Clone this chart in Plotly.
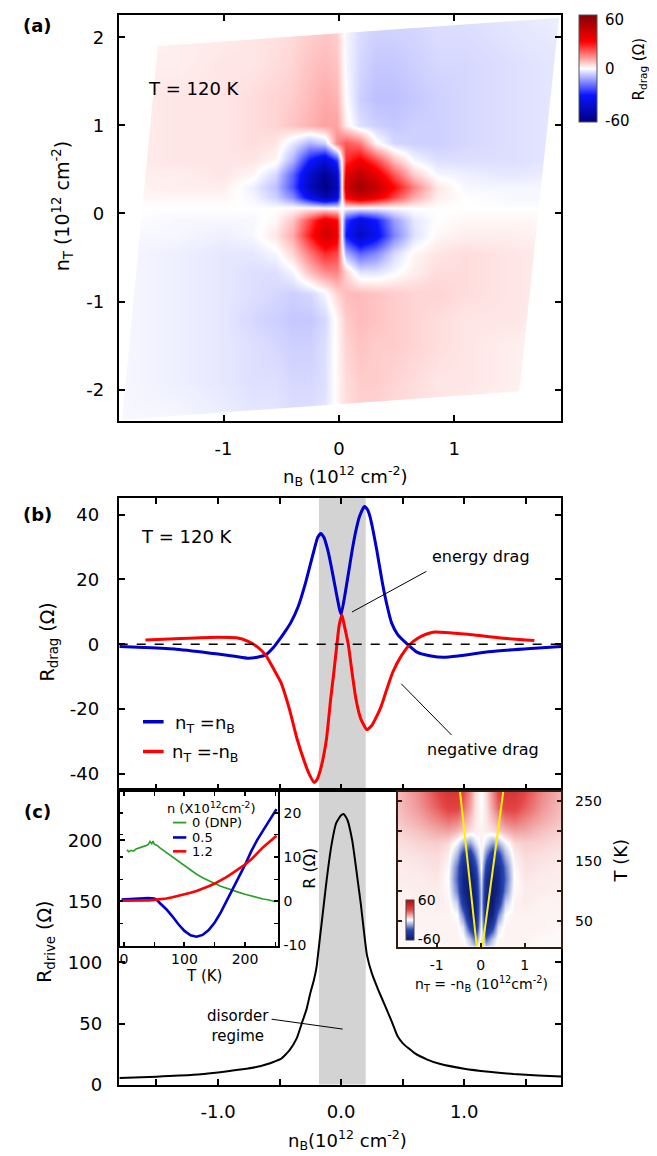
import plotly.graph_objects as go

W, H = 657, 1156
FONT = "DejaVu Sans"

# ---------------- panel (a): R_drag map vs n_B, n_T (T = 120 K) ----------------
nb_grid = [-1.9, -1.4, -1.0, -0.75, -0.55, -0.4, -0.25, -0.12, -0.02, 0.06, 0.18, 0.32, 0.48, 0.65, 0.85, 1.1, 1.5, 1.95]
nt_grid = [-2.35, -1.9, -1.5, -1.2, -0.9, -0.65, -0.45, -0.25, -0.08, 0.06, 0.18, 0.3, 0.45, 0.6, 0.8, 1.0, 1.3, 1.7, 2.25]
rdrag_map = [
    [-1, -1, -2, -3, -3, -4, -4, -3, 1, 4, 5, 5, 4, 4, 3, 2, 1, 1],
    [-1, -2, -3, -4, -4, -5, -5, -4, 1, 4, 6, 6, 5, 4, 3, 3, 2, 1],
    [-1, -2, -3, -4, -5, -6, -6, -4, 1, 5, 7, 6, 6, 5, 4, 3, 2, 1],
    [-1, -2, -3, -5, -6, -7, -7, -5, 1, 6, 8, 7, 6, 5, 4, 3, 3, 2],
    [-1, -2, -3, -4, -5, -6, -5, -1, 5, 8, 8, 7, 6, 5, 5, 4, 3, 2],
    [-1, -2, -3, -4, -4, -1, 8, 14, 15, 5, -4, -4, -1, 2, 4, 4, 3, 2],
    [-1, -2, -3, -3, -1, 5, 16, 25, 22, -10, -20, -15, -5, 1, 3, 4, 3, 2],
    [-1, -1, -2, -1, 3, 10, 27, 42, 35, -30, -44, -34, -16, -4, 1, 2, 2, 1],
    [0, -1, -1, -1, 1, 7, 22, 36, 30, -25, -38, -30, -13, -3, 0, 1, 1, 1],
    [0, 0, 0, 0, 0, 1, 2, 2, 1, -1, -2, -2, -1, 0, 0, 0, 0, 0],
    [1, 1, 1, -1, -6, -15, -35, -48, -40, 32, 42, 35, 22, 10, 2, 0, -1, -1],
    [1, 2, 2, -2, -8, -22, -45, -58, -48, 42, 52, 45, 30, 15, 3, -1, -1, -1],
    [2, 2, 3, 1, -5, -20, -42, -55, -42, 36, 46, 36, 20, 6, -1, -2, -3, -2],
    [2, 3, 3, 3, 1, -10, -30, -40, -25, 25, 32, 22, 8, -1, -4, -4, -4, -3],
    [2, 3, 3, 4, 3, -3, -10, -6, 14, 20, 16, 1, -5, -6, -6, -5, -4, -3],
    [2, 3, 3, 4, 5, 7, 9, 11, 11, 2, -4, -6, -7, -6, -6, -5, -4, -3],
    [2, 3, 3, 4, 5, 6, 8, 10, 9, 0, -6, -8, -8, -7, -6, -5, -4, -3],
    [2, 2, 3, 3, 4, 5, 7, 8, 7, -1, -5, -7, -7, -6, -5, -5, -4, -3],
    [1, 2, 2, 3, 3, 4, 5, 6, 5, -1, -4, -5, -5, -5, -4, -4, -3, -2],
]
# measured map corners (BL, BR, TR, TL)
map_corner_nb = [-1.88, 1.565, 1.91, -1.57]
map_corner_nt = [-2.34, -2.02, 2.22, 1.90]

# ---------------- panel (b): line cuts ----------------
nb_same = [-1.8, -1.6, -1.34, -1.0, -0.85, -0.76, -0.68, -0.61, -0.55, -0.5, -0.45, -0.41, -0.35, -0.29,
           -0.22, -0.19, -0.165, -0.14, -0.108, -0.08, -0.054, -0.03, -0.013, 0.0, 0.03, 0.06, 0.09,
           0.12, 0.15, 0.19, 0.215, 0.236, 0.26, 0.29, 0.336, 0.37, 0.41, 0.46, 0.54, 0.62, 0.73,
           0.83, 0.95, 1.2, 1.54, 1.79]
rdrag_same = [-0.7, -1.0, -1.5, -3.0, -3.8, -4.3, -4.0, -3.2, -1.0, 1.5, 4.2, 6.6, 11.5, 18.8,
              29, 33, 34.2, 33, 29, 24, 18.8, 14, 10.8, 9.2, 15, 22, 29,
              35, 39.5, 42.5, 41.5, 39.2, 35, 29, 18.8, 12.5, 6.6, 3.0, 0.0, -2.5, -3.6,
              -4.0, -3.6, -2.3, -1.3, -0.7]
nb_opp = [-1.59, -1.3, -1.0, -0.85, -0.76, -0.68, -0.61, -0.55, -0.49, -0.42, -0.36, -0.3, -0.26, -0.22,
          -0.2, -0.17, -0.14, -0.118, -0.085, -0.06, -0.034, -0.015, 0.007, 0.025, 0.058, 0.09, 0.12,
          0.16, 0.21, 0.25, 0.32, 0.37, 0.42, 0.49, 0.56, 0.62, 0.69, 0.76, 0.9, 1.03, 1.3, 1.57]
rdrag_opp = [1.3, 1.8, 2.2, 2.0, 1.0, -0.8, -3.5, -7.5, -11.7, -20, -28.9, -36, -40, -42.6,
             -42, -39, -34, -29, -17, -9, 0, 6, 9, 6, 0, -9, -16.8,
             -23, -26.3, -25, -19.7, -14, -8.6, -3.5, 0, 1.8, 3.1, 3.8, 3.5, 3.1, 1.9, 1.2]
disorder_band = [-0.18, 0.2]

# ---------------- panel (c): R_drive ----------------
nb_drive = [-1.8, -1.5, -1.2, -1.0, -0.8, -0.66, -0.55, -0.49, -0.42, -0.36, -0.32, -0.28, -0.25, -0.22,
            -0.2, -0.17, -0.14, -0.118, -0.08, -0.04, 0.0, 0.02, 0.05, 0.09, 0.135, 0.16, 0.186, 0.21,
            0.25, 0.3, 0.355, 0.41, 0.457, 0.5, 0.6, 0.7, 0.8, 1.0, 1.2, 1.4, 1.6, 1.79]
rdrive = [5.5, 6.5, 8, 10, 12.5, 15, 18.5, 21, 28, 38, 50, 62, 75, 86,
          96, 122, 148, 167, 195, 214, 220.5, 221.5, 217, 200, 167, 148, 125, 106,
          91, 78, 65, 52, 40, 34, 25.5, 20.5, 17, 13, 10.5, 8.7, 7.5, 6.6]

# inset (left): R_drag vs T
T_dnp = [5, 8, 12, 16, 20, 25, 30, 35, 40, 43, 46, 48, 50, 55, 60, 70, 80, 90, 100, 110, 120, 130,
         140, 150, 160, 170, 180, 190, 200, 210, 220, 230, 240, 250]
R_dnp = [11.6, 11.2, 11.5, 11.3, 11.8, 12.0, 12.3, 12.5, 12.8, 13.5, 13.0, 13.6, 12.9, 12.6, 12.0, 11.0,
         10.0, 8.9, 7.9, 7.0, 6.1, 5.3, 4.6, 4.0, 3.4, 2.9, 2.4, 2.0, 1.6, 1.2, 0.8, 0.5, 0.3, -0.1]
T_05 = [-4, 10, 20, 30, 40, 50, 55, 60, 70, 80, 90, 100, 110, 120, 130, 140, 150, 160, 170, 180, 190,
        200, 210, 220, 230, 240, 252]
R_05 = [0.4, 0.5, 0.5, 0.6, 0.7, 0.6, 0.2, -0.5, -1.8, -3.4, -5.2, -6.7, -7.7, -8.0, -7.6, -6.5, -4.8,
        -2.5, 0.2, 2.7, 5.4, 8.2, 11.2, 13.8, 16.0, 18.2, 20.8]
T_12 = [-4, 10, 20, 30, 40, 50, 60, 70, 80, 90, 100, 110, 120, 130, 140, 150, 160, 170, 180, 190, 200,
        210, 220, 230, 240, 252]
R_12 = [0.1, 0.1, 0.1, 0.1, 0.2, 0.3, 0.4, 0.6, 0.9, 1.2, 1.5, 1.9, 2.3, 2.8, 3.4, 4.0, 4.7, 5.5, 6.4,
        7.3, 8.3, 9.4, 10.9, 12.2, 13.4, 14.8]
inset_labels = ["0 (DNP)", "0.5", "1.2"]

# inset (right): R_drag map vs n_T = -n_B and T
n_inset = [-1.9, -1.4, -1.0, -0.75, -0.55, -0.4, -0.25, -0.12, 0, 0.12, 0.25, 0.4, 0.55, 0.75, 1.0, 1.4, 1.9]
T_inset = [5, 20, 40, 60, 80, 100, 120, 140, 160, 180, 200, 220, 240, 265]
rdrag_T = [
    [1, 1, 1, 2, 2, 2, -3, -5, 8, -5, -3, 2, 2, 2, 1, 1, 1],
    [1, 1, 2, 2, 2, 1, -10, -25, 5, -25, -10, 1, 2, 2, 2, 1, 1],
    [1, 2, 2, 2, 2, -5, -35, -50, 0, -50, -35, -5, 2, 2, 2, 2, 1],
    [2, 2, 2, 2, 0, -20, -55, -55, -5, -55, -55, -20, 0, 2, 2, 2, 2],
    [2, 2, 3, 2, -8, -40, -60, -55, -8, -55, -60, -40, -8, 2, 3, 2, 2],
    [2, 3, 3, 1, -20, -50, -60, -50, -8, -50, -60, -50, -20, 1, 3, 3, 2],
    [3, 3, 4, 0, -25, -52, -58, -45, -5, -45, -58, -52, -25, 0, 4, 3, 3],
    [3, 4, 5, 1, -22, -48, -52, -35, 0, -35, -52, -48, -22, 1, 5, 4, 3],
    [4, 5, 6, 3, -12, -35, -40, -20, 2, -20, -40, -35, -12, 3, 6, 5, 4],
    [5, 7, 8, 6, -2, -12, -15, -5, 3, -5, -15, -12, -2, 6, 8, 7, 5],
    [7, 10, 14, 15, 12, 8, 5, 3, 2, 3, 5, 8, 12, 15, 14, 10, 7],
    [9, 14, 20, 24, 22, 16, 10, 4, 1, 4, 10, 16, 22, 24, 20, 14, 9],
    [10, 17, 26, 32, 32, 25, 15, 5, 0, 5, 15, 25, 32, 32, 26, 17, 10],
    [11, 19, 30, 38, 38, 30, 18, 6, 0, 6, 18, 30, 38, 38, 30, 19, 11],
]
yellow_T = [7.5, 265]
yellow_left_n = [-0.09, -0.47]
yellow_right_n = [0.04, 0.51]


def X(p):
    return p / W


def Y(p):
    return 1 - p / H


BLUE = "rgb(0,0,205)"
RED = "rgb(255,0,0)"
GREEN = "rgb(40,160,40)"

fig = go.Figure()

# ---- (a) map
fig.add_trace(go.Heatmap(x=nb_grid, y=nt_grid, z=rdrag_map, coloraxis="coloraxis",
                         zsmooth="best", xaxis="x", yaxis="y", hoverinfo="skip"))
B = 3.0
mask_x = [-B, B, B, -B, -B] + [map_corner_nb[i] for i in (0, 1, 2, 3, 0)] + [-B, -B]
mask_y = [B, B, -B, -B, map_corner_nt[0]] + [map_corner_nt[i] for i in (0, 1, 2, 3, 0)] + [map_corner_nt[0], B]
fig.add_trace(go.Scatter(x=mask_x, y=mask_y, fill="toself", fillcolor="white", mode="lines",
                         line=dict(width=0, color="white"), hoverinfo="skip", showlegend=False,
                         xaxis="x", yaxis="y"))

# ---- (b) cuts
fig.add_trace(go.Scatter(x=nb_same, y=rdrag_same, mode="lines",
                         line=dict(color=BLUE, width=3, shape="spline", smoothing=0.5),
                         showlegend=False, xaxis="x2", yaxis="y2"))
fig.add_trace(go.Scatter(x=nb_opp, y=rdrag_opp, mode="lines",
                         line=dict(color=RED, width=3, shape="spline", smoothing=0.5),
                         showlegend=False, xaxis="x2", yaxis="y2"))

# ---- (c) R_drive
fig.add_trace(go.Scatter(x=nb_drive, y=rdrive, mode="lines",
                         line=dict(color="black", width=2, shape="spline", smoothing=0.5),
                         showlegend=False, xaxis="x3", yaxis="y3"))

# ---- inset left
for tx, rx, col, w in ((T_dnp, R_dnp, GREEN, 1.6), (T_05, R_05, BLUE, 2.6), (T_12, R_12, RED, 2.6)):
    fig.add_trace(go.Scatter(x=tx, y=rx, mode="lines", line=dict(color=col, width=w),
                             showlegend=False, xaxis="x4", yaxis="y4"))

# ---- inset right
fig.add_trace(go.Heatmap(x=n_inset, y=T_inset, z=rdrag_T, coloraxis="coloraxis2", zsmooth="best",
                         xaxis="x5", yaxis="y5", hoverinfo="skip"))
for nn in (yellow_left_n, yellow_right_n):
    fig.add_trace(go.Scatter(x=nn, y=yellow_T, mode="lines", line=dict(color="rgb(255,240,0)", width=2),
                             showlegend=False, xaxis="x5", yaxis="y5"))

tickfont = dict(family=FONT, size=18, color="black")
small_tf = dict(family=FONT, size=14, color="black")
base = dict(showline=True, linecolor="black", linewidth=2, ticks="inside", ticklen=6, tickwidth=1.5,
            tickcolor="black", showgrid=False, zeroline=False, tickfont=tickfont, mirror="ticks")
minor_main = dict(ticks="inside", ticklen=6, tickwidth=1.5, tickcolor="black", dtick=0.5, tick0=0)

XD = [X(110.7), X(553.3)]
fig.update_layout(
    width=W, height=H, margin=dict(l=0, r=0, t=0, b=0),
    paper_bgcolor="white", plot_bgcolor="rgba(0,0,0,0)",
    font=dict(family=FONT, color="black"),
    xaxis=dict(base, domain=XD, range=[-1.91, 1.93], anchor="y", tickvals=[-1, 0, 1],
               ticktext=["-1", "0", "1"], ticklabelstandoff=10),
    yaxis=dict(base, domain=[Y(417), Y(7.3)], range=[-2.36, 2.25], anchor="x", tickvals=[-2, -1, 0, 1, 2],
               ticktext=["-2", "-1", "0", "1", "2"], ticklabelstandoff=9),
    xaxis2=dict(base, domain=XD, range=[-1.807, 1.789], anchor="y2", tickvals=[-1, 0, 1], showticklabels=False,
                minor=minor_main),
    yaxis2=dict(base, domain=[Y(789), Y(494)], range=[-45, 45.2], anchor="x2", tickvals=[-40, -20, 0, 20, 40],
                ticktext=["-40", "-20", "0", "20", "40"], ticklabelstandoff=14),
    xaxis3=dict(base, domain=XD, range=[-1.807, 1.789], anchor="y3", tickvals=[-1, 0, 1],
                ticktext=["-1.0", "0.0", "1.0"], mirror=True, ticklabelstandoff=10, minor=minor_main),
    yaxis3=dict(base, domain=[Y(1086), Y(789)], range=[0, 241], anchor="x3", tickvals=[0, 50, 100, 150, 200],
                ticklabelstandoff=11),
    xaxis4=dict(base, domain=[X(111.7), X(270)], range=[-7, 254.5], anchor="y4", tickvals=[0, 100, 200],
                linewidth=1.5, ticklen=4, tickfont=small_tf, ticklabelstandoff=0,
                minor=dict(ticks="inside", ticklen=4, tickwidth=1, tickcolor="black", dtick=50, tick0=0)),
    yaxis4=dict(base, domain=[Y(945.7), Y(790.7)], range=[-10, 24.7], anchor="x4", side="right",
                tickvals=[-10, 0, 10, 20], ticktext=["-10", "0", "10", "20"], linewidth=1.5, ticklen=4,
                tickfont=small_tf, ticklabelstandoff=1,
                minor=dict(ticks="inside", ticklen=4, tickwidth=1, tickcolor="black", dtick=5, tick0=0)),
    xaxis5=dict(base, domain=[X(390), X(553.3)], range=[-1.88, 1.83], anchor="y5", tickvals=[-1, 0, 1],
                ticktext=["-1", "0", "1"], linecolor="rgb(45,28,18)", tickcolor="rgb(45,28,18)", ticklen=4,
                tickfont=small_tf, mirror=True, ticklabelstandoff=5),
    yaxis5=dict(base, domain=[Y(946.7), Y(790.7)], range=[7.5, 265], anchor="x5", side="right",
                tickvals=[50, 100, 150, 200, 250], ticktext=["50", " ", "150", " ", "250"],
                linecolor="rgb(45,28,18)", tickcolor="rgb(45,28,18)", ticklen=4, tickfont=small_tf,
                ticklabelstandoff=9),
    coloraxis=dict(
        cmin=-60, cmax=60,
        colorscale=[[0, "rgb(0,0,125)"], [0.25, "rgb(10,20,255)"], [0.5, "rgb(255,255,255)"],
                    [0.75, "rgb(255,0,0)"], [1, "rgb(130,0,5)"]],
        colorbar=dict(x=X(570.7), xanchor="left", xpad=0, y=Y(7.3), yanchor="top", ypad=0,
                      len=106.7, lenmode="pixels", thickness=17.6, thicknessmode="pixels",
                      outlinewidth=1, outlinecolor="#555", tickvals=[55, 0, -58.5],
                      ticktext=["60", "0", "-60"],
                      ticks="outside", ticklen=5, tickcolor="rgba(0,0,0,0)",
                      tickfont=dict(family=FONT, size=15, color="black")),
    ),
    coloraxis2=dict(
        cmin=-60, cmax=60,
        colorscale=[[0, "rgb(10,25,115)"], [0.25, "rgb(40,70,180)"], [0.5, "rgb(255,255,255)"],
                    [0.75, "rgb(228,70,70)"], [1, "rgb(175,10,10)"]],
        colorbar=dict(x=X(398.3), xanchor="left", xpad=0, y=Y(899.3), yanchor="top", ypad=0,
                      len=40, lenmode="pixels", thickness=8, thicknessmode="pixels",
                      outlinewidth=1, outlinecolor="#444", tickvals=[58, -58], ticktext=["60", "-60"],
                      ticks="", tickfont=dict(family=FONT, size=14, color="black")),
    ),
)

shapes = []
# disorder band in (b) and (c)
for xa, ya in (("x2", "y2"), ("x3", "y3")):
    shapes.append(dict(type="rect", xref=xa, yref=ya + " domain", x0=disorder_band[0], x1=disorder_band[1],
                       y0=0, y1=1, fillcolor="rgb(211,211,211)", line=dict(width=0), layer="below"))
# dashed zero line in (b)
shapes.append(dict(type="line", xref="x2 domain", yref="y2", x0=0, x1=1, y0=0, y1=0,
                   line=dict(color="black", width=1.5, dash="dash")))


def pline(x0, y0, x1, y1, color="black", width=1):
    shapes.append(dict(type="line", xref="paper", yref="paper", x0=X(x0), y0=Y(y0), x1=X(x1), y1=Y(y1),
                       line=dict(color=color, width=width)))


pline(418.4, 568.3, 344, 609.3)        # energy drag leader
pline(393.3, 681.7, 443.5, 733.3)      # negative drag leader
pline(263.6, 1020, 334.7, 1030)        # disorder regime leader
# legend samples (b)
pline(135, 720, 155.6, 720, BLUE, 3.5)
pline(135, 750, 155.6, 750, RED, 3.5)
# legend samples (inset)
for yy, col, w in ((821.7, GREEN, 1.8), (836.7, BLUE, 2.6), (850.7, RED, 2.6)):
    pline(165, yy, 178.3, yy, col, w)
fig.update_layout(shapes=shapes)

ann = []


def text(x, y, s, size=18, xanchor="center", angle=0, bold=False):
    if bold:
        s = "<b>" + s + "</b>"
    ann.append(dict(xref="paper", yref="paper", x=X(x), y=Y(y), text=s, showarrow=False,
                    xanchor=xanchor, yanchor="middle", textangle=angle,
                    font=dict(family=FONT, size=size, color="black")))


text(29, 18, "(a)", 18, bold=True)
text(29, 511, "(b)", 18, bold=True)
text(29, 811, "(c)", 18, bold=True)
text(137.7, 81, "T = 120 K", 18, "left")
text(131, 533, "T = 120 K", 18, "left")
text(54, 200, "n<sub>T</sub> (10<sup>12</sup> cm<sup>-2</sup>)", 19, angle=-90)
text(337, 472, "n<sub>B</sub> (10<sup>12</sup> cm<sup>-2</sup>)", 18)
text(631, 62, "R<sub>drag</sub> (Ω)", 15, angle=-90)
text(40, 640, "R<sub>drag</sub> (Ω)", 19, angle=-90)
text(38, 942, "R<sub>drive</sub> (Ω)", 19, angle=-90)
text(339.5, 1142, "n<sub>B</sub>(10<sup>12</sup> cm<sup>-2</sup>)", 18)
text(473, 553, "energy drag", 16)
text(475, 748, "negative drag", 16)
text(165.3, 722, "n<sub>T</sub> =n<sub>B</sub>", 18, "left")
text(162.3, 752, "n<sub>T</sub> =-n<sub>B</sub>", 18, "left")
text(196.7, 1027, "disorder<br>regime", 15, "left")
# inset left
text(203, 807, "n (X10<sup>12</sup>cm<sup>-2</sup>)", 13)
for yy, lab in zip((821.7, 836.7, 850.7), inset_labels):
    text(181.7, yy, lab, 13, "left")
text(195.6, 976, "T (K)", 15)
text(301.3, 868, "R (Ω)", 16, angle=-90)
# inset right
text(473, 985, "n<sub>T</sub> = -n<sub>B</sub> (10<sup>12</sup>cm<sup>-2</sup>)", 14)
text(613, 860, "T (K)", 18, angle=-90)
fig.update_layout(annotations=ann)

fig.write_html("out.html")
